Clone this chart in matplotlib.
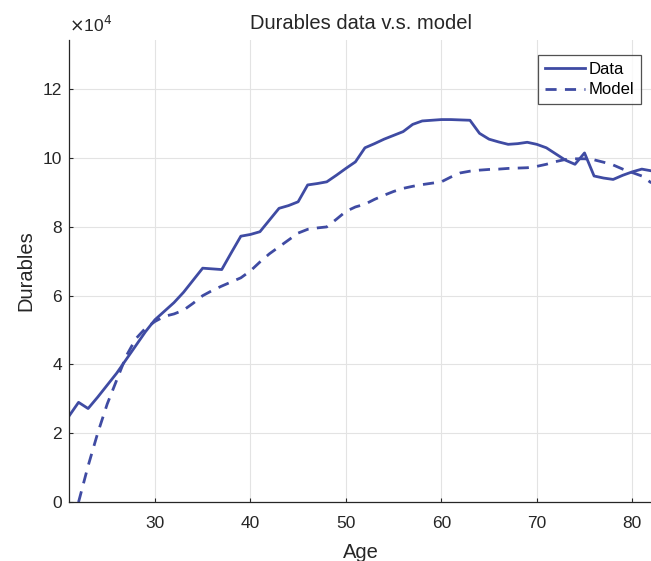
import numpy as np
import matplotlib
matplotlib.use("Agg")
import matplotlib.pyplot as plt

# life-cycle profile of durables holdings, in units of 1e4
ages = list(range(21, 83))
data_vals = [2.50, 2.90, 2.72, 3.05, 3.40, 3.75, 4.15, 4.55, 4.95, 5.30,
             5.55, 5.80, 6.10, 6.45, 6.80, 6.78, 6.76, 7.25, 7.73, 7.78,
             7.86, 8.20, 8.54, 8.62, 8.73, 9.22, 9.26, 9.31, 9.50, 9.70,
             9.89, 10.30, 10.42, 10.55, 10.66, 10.77, 10.98, 11.08, 11.10, 11.12,
             11.12, 11.11, 11.10, 10.72, 10.55, 10.47, 10.40, 10.42, 10.46, 10.40,
             10.30, 10.12, 9.94, 9.82, 10.15, 9.48, 9.42, 9.38, 9.50, 9.60,
             9.68, 9.63]

model_ages = list(range(22, 83))
model_vals = [0.00, 1.05, 2.00, 2.85, 3.55, 4.25, 4.75, 5.05, 5.25,
              5.40, 5.47, 5.58, 5.78, 6.00, 6.15, 6.28, 6.40, 6.52, 6.72,
              6.98, 7.22, 7.42, 7.62, 7.82, 7.93, 7.97, 8.00, 8.22, 8.45,
              8.58, 8.66, 8.80, 8.92, 9.03, 9.12, 9.18, 9.23, 9.27, 9.31,
              9.45, 9.57, 9.62, 9.65, 9.67, 9.68, 9.70, 9.71, 9.72, 9.76,
              9.82, 9.90, 9.96, 9.98, 9.98, 9.95, 9.88, 9.80, 9.68, 9.58,
              9.48, 9.28]

line_col = "#3F4BA3"
txt_col = "#262626"

plt.rcParams["font.family"] = ["Liberation Sans", "DejaVu Sans"]

fig = plt.figure(figsize=(6.51, 5.61), dpi=100)
ax = fig.add_axes([0.106, 0.105, 0.896, 0.8235])

ax.plot(ages, np.array(data_vals) * 1e4, color=line_col, lw=2.0, label="Data")
ax.plot(model_ages, np.array(model_vals) * 1e4, color=line_col, lw=2.0,
        ls=(0, (4, 3)), label="Model")

ax.set_xlim(21, 82.1)
ax.set_ylim(0, 13.43e4)
ax.set_xticks([30, 40, 50, 60, 70, 80])
ax.set_yticks(np.arange(0, 13e4, 2e4))
ax.set_yticklabels([str(v) for v in range(0, 13, 2)])

ax.grid(True, color="#E3E3E3", lw=0.8)
ax.set_axisbelow(True)
for s in ["top", "right"]:
    ax.spines[s].set_visible(False)
for s in ["left", "bottom"]:
    ax.spines[s].set_color(txt_col)
    ax.spines[s].set_linewidth(0.9)
ax.tick_params(direction="in", length=3, width=0.8, colors=txt_col,
               labelsize=12.5)
ax.tick_params(axis="x", pad=10)
ax.tick_params(axis="y", pad=5)

ax.set_title("Durables data v.s. model", fontsize=14.5, color=txt_col, pad=8)
ax.set_xlabel("Age", fontsize=14.5, color=txt_col, labelpad=9)
ax.set_ylabel("Durables", fontsize=14.5, color=txt_col, labelpad=5)
ax.text(0.0, 1.012, r"$\times$10$^4$", transform=ax.transAxes, fontsize=12.5,
        color=txt_col, ha="left", va="bottom")

leg = ax.legend(loc="upper right", bbox_to_anchor=(0.981, 0.968), borderaxespad=0,
                fontsize=12, frameon=True, fancybox=False, edgecolor=txt_col,
                handlelength=2.4, borderpad=0.4, labelspacing=0.35, handletextpad=0.25)
leg.get_frame().set_linewidth(0.9)

fig.savefig("out.png", dpi=100)
